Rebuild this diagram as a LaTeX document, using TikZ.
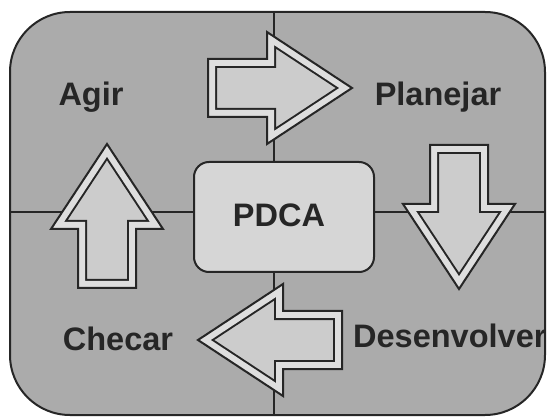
\documentclass[tikz,border=0pt]{standalone}
\usepackage{fontspec}
\setmainfont{Liberation Sans}
\definecolor{quad}{HTML}{ABABAB}
\definecolor{boxfill}{HTML}{D6D6D6}
\definecolor{arrowfill}{HTML}{CCCCCC}
\definecolor{arrowband}{HTML}{DEDEDE}
\definecolor{ink}{HTML}{262626}
\tikzset{
  label text/.style={font=\fontsize{32.5}{36}\selectfont\bfseries, text=ink, inner sep=0pt},
  centre box/.style={draw=ink, line width=2pt, fill=boxfill, rounded corners=15pt,
    minimum width=180pt, minimum height=110pt, inner sep=0pt},
}
% block arrow with an inset outline, pointing along +x from its origin
\newcommand\blockarrowpath{(0,-29) -- (59,-29) -- (59,-56) -- (144,0) -- (59,56) -- (59,29) -- (0,29) -- cycle}
\newcommand\blockarrow[2]{%
  \begin{scope}[shift={#1}, rotate=#2, line join=miter]
    \begin{scope}
      \clip \blockarrowpath;
      \fill[arrowfill] \blockarrowpath;
      \draw[ink, line width=18pt] \blockarrowpath;
      \draw[arrowband, line width=14pt] \blockarrowpath;
    \end{scope}
    \draw[ink, line width=2pt] \blockarrowpath;
  \end{scope}}
\begin{document}
\begin{tikzpicture}[x=1pt, y=-1pt]
  \useasboundingbox (0,0) rectangle (547,417);
  \fill[white] (0,0) rectangle (547,417);
  % four quadrants with their dividers
  \filldraw[fill=quad, draw=ink, line width=2pt, rounded corners=60pt] (10,12) rectangle (545,415);
  \coordinate (vtop) at (274,12);
  \coordinate (vbot) at (274,415);
  \coordinate (hleft) at (10,212);
  \coordinate (hright) at (545,212);
  \draw[ink, line width=2pt] (vtop) -- (vbot);
  \draw[ink, line width=2pt] (hleft) -- (hright);
  % cycle arrows
  \blockarrow{(208,88)}{0}
  \blockarrow{(459,145)}{-90}
  \blockarrow{(342,340)}{180}
  \blockarrow{(107,288)}{90}
  % centre box
  \node[centre box] (pdca) at (284,217) {};
  \node[label text, anchor=base] (pdcatext) at (279,227) {PDCA};
  % quadrant labels
  \node[label text, anchor=base] (agir) at (91,106) {Agir};
  \node[label text, anchor=base] (planejar) at (438,106) {Planejar};
  \node[label text, anchor=base] (checar) at (118,350) {Checar};
  \node[label text, anchor=base west] (desenvolver) at (353,347) {Desenvolver};
\end{tikzpicture}
\end{document}
